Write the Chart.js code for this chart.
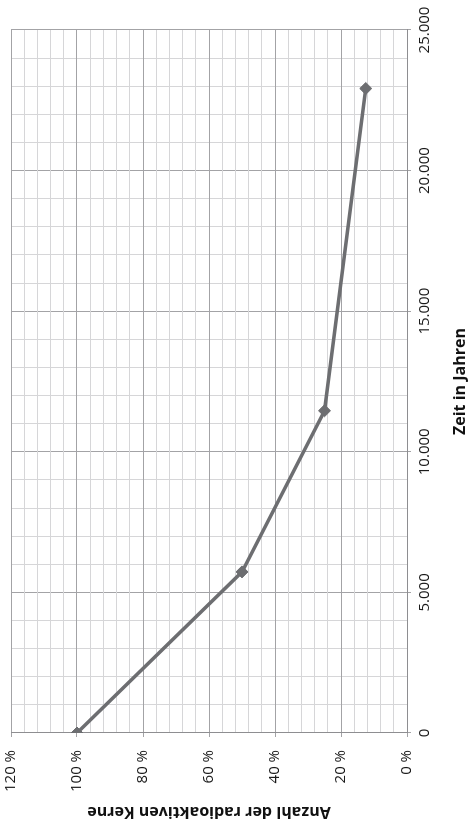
<!DOCTYPE html>
<html><head><meta charset="utf-8">
<script src="https://cdn.jsdelivr.net/npm/chart.js@4"></script>
<style>
html,body{margin:0;padding:0;background:#fff;overflow:hidden;width:472px;height:834px;}
#wrap{position:absolute;left:0;top:834px;width:834px;height:472px;transform-origin:0 0;transform:rotate(-90deg);}
</style></head><body>
<div id="wrap"><canvas id="c" width="834" height="472"></canvas></div>
<script>
// Data (carbon-14 decay)
const years = [0, 5730, 11460, 22920];
const percent = [100, 50, 25, 12.5];
const yearMajorStep = 5000;
const percentMajorStep = 20;
const xTitle = 'Zeit in Jahren';
const yTitle = 'Anzahl der radioaktiven Kerne';

const fmtThousands = v => String(Math.round(v)).replace(/\B(?=(\d{3})+(?!\d))/g, '.');
const isMajor = (v, step) => Math.abs(v / step - Math.round(v / step)) < 1e-6;

const MAJOR = '#a3a3a6';
const MINOR = '#d6d6d8';
const FONT = "'Open Sans', sans-serif";

new Chart(document.getElementById('c'), {
  type: 'scatter',
  data: {
    datasets: [{
      data: years.map((x, i) => ({x, y: percent[i]})),
      showLine: true,
      borderColor: '#6d6e71',
      backgroundColor: '#6d6e71',
      borderWidth: 3.5,
      pointStyle: 'rectRot',
      pointRadius: 6,
      pointBorderWidth: 1,
      tension: 0
    }]
  },
  options: {
    responsive: false,
    animation: false,
    layout: {padding: {top: 11, right: 30, bottom: 0, left: 0}},
    plugins: {legend: {display: false}, tooltip: {enabled: false}},
    scales: {
      x: {
        type: 'linear', min: 0, max: 25000,
        afterFit: s => { s.height = 65; s.paddingLeft = 0; s.paddingRight = 0; },
        border: {display: true, color: '#8e8e91', width: 1},
        grid: {
          color: c => isMajor(c.tick.value, yearMajorStep) ? MAJOR : MINOR,
          tickColor: c => isMajor(c.tick.value, yearMajorStep) ? MAJOR : 'rgba(0,0,0,0)',
          tickLength: 4, lineWidth: 1
        },
        ticks: {
          stepSize: 1000, autoSkip: false, maxRotation: 0, padding: 5,
          color: '#1a1a1a', font: {family: FONT, size: 15},
          callback: v => isMajor(v, yearMajorStep) ? fmtThousands(v) : ''
        },
        title: {display: true, text: xTitle, color: '#111', font: {family: FONT, size: 16, weight: 'bold'}, padding: {top: 10, bottom: 1.5}}
      },
      y: {
        type: 'linear', min: 0, max: 120,
        afterFit: s => { s.width = 101; s.paddingTop = 0; s.paddingBottom = 0; },
        border: {display: true, color: '#8e8e91', width: 1},
        grid: {
          color: c => isMajor(c.tick.value, percentMajorStep) ? MAJOR : MINOR,
          tickColor: c => isMajor(c.tick.value, percentMajorStep) ? MAJOR : 'rgba(0,0,0,0)',
          tickLength: 4, lineWidth: 1
        },
        ticks: {
          stepSize: 4, autoSkip: false, padding: 13,
          color: '#1a1a1a', font: {family: FONT, size: 15},
          callback: v => isMajor(v, percentMajorStep) ? (Math.round(v) + ' %') : ''
        },
        title: {display: true, text: yTitle, color: '#111', font: {family: FONT, size: 16, weight: 'bold'}, padding: {top: 12.4, bottom: 4}}
      }
    }
  }
});
</script>
</body></html>
